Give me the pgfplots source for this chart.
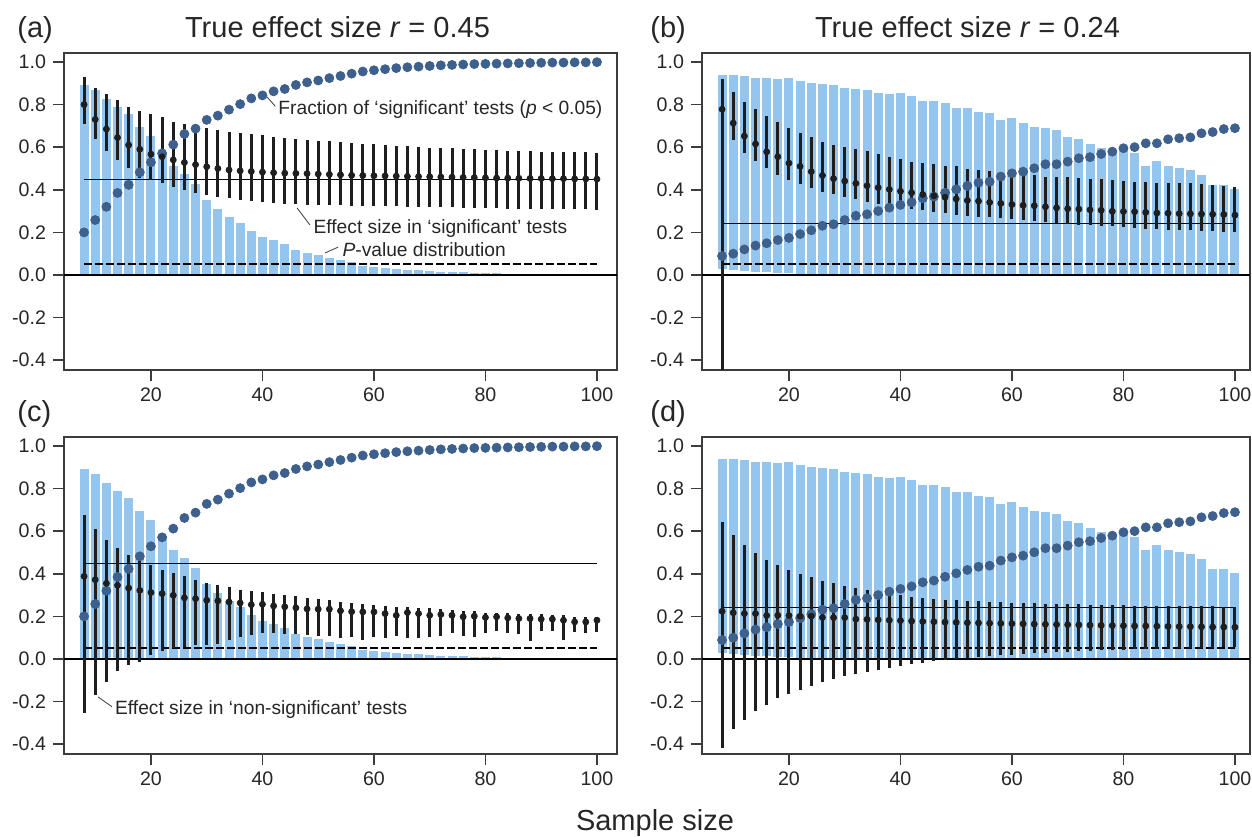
\documentclass[border=0pt]{standalone}
\usepackage{fontspec}
\setmainfont{Liberation Sans}
\usepackage{pgfplots}
\pgfplotsset{compat=1.18}
\usepackage{pgfplotstable}

\definecolor{barc}{RGB}{147,197,238}
\definecolor{dotc}{RGB}{61,96,140}
\definecolor{errc}{RGB}{30,30,30}
\definecolor{axc}{RGB}{60,60,60}

\pgfplotstableread{
n ph pl fr
8 0.891 0 0.200
10 0.868 0 0.258
12 0.824 0 0.320
14 0.790 0 0.385
16 0.754 0 0.423
18 0.693 0 0.482
20 0.653 0 0.529
22 0.575 0 0.571
24 0.513 0 0.612
26 0.476 0 0.662
28 0.428 0 0.687
30 0.353 0 0.728
32 0.310 0 0.748
34 0.270 0 0.776
36 0.245 0 0.802
38 0.205 0 0.829
40 0.180 0 0.843
42 0.163 0 0.862
44 0.145 0 0.873
46 0.117 0 0.892
48 0.105 0 0.904
50 0.094 0 0.913
52 0.080 0 0.924
54 0.070 0 0.934
56 0.062 0 0.945
58 0.044 0 0.955
60 0.037 0 0.961
62 0.033 0 0.966
64 0.029 0 0.971
66 0.025 0 0.975
68 0.022 0 0.978
70 0.019 0 0.981
72 0.016 0 0.984
74 0.014 0 0.986
76 0.012 0 0.988
78 0.010 0 0.990
80 0.008 0 0.991
82 0.007 0 0.992
84 0.006 0 0.993
86 0.005 0 0.994
88 0.004 0 0.995
90 0.004 0 0.996
92 0.003 0 0.997
94 0.003 0 0.997
96 0.002 0 0.998
98 0.002 0 0.998
100 0.002 0 0.999
}\pA

\pgfplotstableread{
n ph pl fr
8 0.939 0.027 0.089
10 0.939 0.022 0.100
12 0.934 0.019 0.120
14 0.925 0.016 0.138
16 0.923 0.014 0.149
18 0.918 0.011 0.164
20 0.923 0.008 0.174
22 0.910 0.006 0.192
24 0.900 0.004 0.210
26 0.897 0.003 0.231
28 0.893 0.002 0.238
30 0.877 0.001 0.258
32 0.873 0 0.278
34 0.870 0 0.285
36 0.855 0 0.300
38 0.849 0 0.316
40 0.852 0 0.329
42 0.842 0 0.341
44 0.817 0 0.360
46 0.817 0 0.368
48 0.806 0 0.386
50 0.786 0 0.402
52 0.786 0 0.418
54 0.766 0 0.433
56 0.760 0 0.438
58 0.728 0 0.462
60 0.736 0 0.477
62 0.713 0 0.485
64 0.693 0 0.501
66 0.692 0 0.520
68 0.680 0 0.520
70 0.647 0 0.532
72 0.637 0 0.548
74 0.615 0 0.553
76 0.598 0 0.568
78 0.587 0 0.579
80 0.592 0 0.595
82 0.571 0 0.600
84 0.510 0 0.618
86 0.535 0 0.618
88 0.510 0 0.637
90 0.500 0 0.642
92 0.493 0 0.646
94 0.470 0 0.665
96 0.423 0 0.671
98 0.423 0 0.685
100 0.404 0 0.689
}\pB

\pgfplotstableread{
n m lo hi
8 0.800 0.710 0.930
10 0.730 0.640 0.880
12 0.685 0.580 0.850
14 0.645 0.540 0.820
16 0.610 0.500 0.790
18 0.590 0.455 0.770
20 0.567 0.445 0.755
22 0.555 0.430 0.740
24 0.540 0.415 0.720
26 0.528 0.400 0.710
28 0.518 0.385 0.695
30 0.508 0.375 0.688
32 0.500 0.368 0.680
34 0.493 0.360 0.672
36 0.489 0.352 0.665
38 0.486 0.346 0.660
40 0.483 0.341 0.655
42 0.480 0.337 0.650
44 0.478 0.333 0.645
46 0.477 0.331 0.640
48 0.476 0.330 0.635
50 0.474 0.329 0.631
52 0.472 0.328 0.627
54 0.470 0.327 0.623
56 0.468 0.326 0.619
58 0.467 0.325 0.616
60 0.466 0.324 0.613
62 0.465 0.323 0.610
64 0.464 0.322 0.607
66 0.463 0.321 0.604
68 0.462 0.320 0.601
70 0.461 0.319 0.598
72 0.460 0.318 0.596
74 0.459 0.317 0.594
76 0.458 0.316 0.592
78 0.457 0.315 0.590
80 0.456 0.314 0.588
82 0.455 0.313 0.586
84 0.455 0.312 0.584
86 0.454 0.311 0.582
88 0.453 0.310 0.580
90 0.453 0.310 0.579
92 0.452 0.309 0.578
94 0.452 0.309 0.577
96 0.451 0.308 0.576
98 0.451 0.308 0.575
100 0.450 0.307 0.574
}\eA

\pgfplotstableread{
n m lo hi
8 0.778 -0.600 0.920
10 0.713 0.634 0.860
12 0.652 0.574 0.810
14 0.615 0.535 0.780
16 0.578 0.500 0.747
18 0.555 0.470 0.718
20 0.525 0.446 0.690
22 0.510 0.427 0.667
24 0.485 0.407 0.650
26 0.467 0.390 0.626
28 0.452 0.378 0.610
30 0.441 0.366 0.600
32 0.430 0.355 0.592
34 0.419 0.344 0.582
36 0.410 0.334 0.568
38 0.402 0.325 0.555
40 0.393 0.317 0.543
42 0.386 0.310 0.532
44 0.378 0.303 0.524
46 0.372 0.297 0.520
48 0.365 0.290 0.513
50 0.357 0.282 0.510
52 0.350 0.279 0.498
54 0.347 0.274 0.493
56 0.341 0.270 0.490
58 0.336 0.266 0.480
60 0.331 0.262 0.477
62 0.327 0.258 0.474
64 0.325 0.254 0.470
66 0.320 0.249 0.460
68 0.315 0.246 0.459
70 0.311 0.241 0.459
72 0.309 0.236 0.454
74 0.306 0.233 0.451
76 0.304 0.230 0.451
78 0.299 0.228 0.446
80 0.298 0.226 0.443
82 0.297 0.222 0.438
84 0.294 0.218 0.438
86 0.291 0.216 0.433
88 0.290 0.213 0.430
90 0.288 0.210 0.430
92 0.287 0.209 0.430
94 0.286 0.207 0.426
96 0.285 0.205 0.423
98 0.284 0.203 0.419
100 0.281 0.200 0.415
}\eB

\pgfplotstableread{
n m lo hi
8 0.388 -0.253 0.678
10 0.372 -0.171 0.610
12 0.355 -0.109 0.559
14 0.346 -0.055 0.520
16 0.333 -0.028 0.489
18 0.322 -0.012 0.463
20 0.312 0.019 0.439
22 0.307 0.037 0.419
24 0.299 0.050 0.403
26 0.287 0.058 0.388
28 0.283 0.065 0.372
30 0.276 0.068 0.358
32 0.273 0.072 0.349
34 0.268 0.089 0.338
36 0.263 0.104 0.322
38 0.255 0.112 0.318
40 0.257 0.120 0.313
42 0.249 0.122 0.307
44 0.245 0.118 0.299
46 0.240 0.115 0.296
48 0.235 0.112 0.285
50 0.234 0.110 0.283
52 0.234 0.108 0.276
54 0.226 0.100 0.268
56 0.222 0.105 0.263
58 0.221 0.089 0.260
60 0.221 0.101 0.255
62 0.213 0.097 0.249
64 0.205 0.107 0.244
66 0.218 0.100 0.244
68 0.213 0.097 0.240
70 0.205 0.104 0.237
72 0.209 0.107 0.234
74 0.205 0.123 0.229
76 0.198 0.107 0.226
78 0.201 0.104 0.226
80 0.195 0.123 0.218
82 0.198 0.131 0.218
84 0.193 0.120 0.216
86 0.190 0.117 0.213
88 0.190 0.084 0.210
90 0.187 0.131 0.209
92 0.187 0.131 0.205
94 0.182 0.089 0.205
96 0.174 0.128 0.198
98 0.174 0.120 0.198
100 0.182 0.128 0.198
}\eC

\pgfplotstableread{
n m lo hi
8 0.224 -0.420 0.645
10 0.217 -0.330 0.584
12 0.213 -0.285 0.536
14 0.213 -0.245 0.497
16 0.204 -0.215 0.463
18 0.205 -0.185 0.442
20 0.204 -0.165 0.420
22 0.201 -0.145 0.400
24 0.201 -0.125 0.385
26 0.195 -0.108 0.366
28 0.194 -0.095 0.357
30 0.194 -0.082 0.343
32 0.187 -0.070 0.333
34 0.186 -0.060 0.322
36 0.184 -0.050 0.311
38 0.182 -0.040 0.307
40 0.180 -0.032 0.299
42 0.178 -0.024 0.291
44 0.176 -0.017 0.288
46 0.175 -0.010 0.283
48 0.173 -0.004 0.278
50 0.172 0.001 0.275
52 0.170 0.006 0.273
54 0.169 0.010 0.270
56 0.168 0.014 0.268
58 0.167 0.018 0.266
60 0.166 0.021 0.264
62 0.165 0.024 0.262
64 0.164 0.027 0.261
66 0.163 0.030 0.259
68 0.162 0.032 0.258
70 0.161 0.034 0.257
72 0.160 0.036 0.256
74 0.159 0.038 0.255
76 0.158 0.040 0.254
78 0.157 0.042 0.253
80 0.156 0.043 0.252
82 0.155 0.045 0.251
84 0.155 0.046 0.250
86 0.154 0.047 0.250
88 0.153 0.048 0.249
90 0.152 0.050 0.248
92 0.152 0.051 0.248
94 0.151 0.052 0.247
96 0.150 0.053 0.247
98 0.150 0.054 0.246
100 0.149 0.055 0.245
}\eD

\pgfplotsset{
  panel/.style={
    scale only axis, height=158.5pt,
    ymin=-0.446, ymax=1.042, xmin=4.4,
    xtick={20,40,60,80,100}, xticklabels={20,40,60,80,100},
    ytick={-0.4,-0.2,0,0.2,0.4,0.6,0.8,1.0},
    yticklabels={-0.4,-0.2,0.0,0.2,0.4,0.6,0.8,1.0},
    tick align=outside, xtick pos=left, ytick pos=left,
    major tick length=5.5pt,
    axis line style={axc, line width=0.8pt},
    tick style={axc, line width=0.8pt},
    ticklabel style={font=\fontsize{9.8}{11}\selectfont, text=black!85},
    clip=true,
  },
  pbars/.style={draw=none, forget plot, error bars/.cd, y dir=plus, y explicit, error mark=none,
    error bar style={draw=barc, line width=4.5pt}},
  pdots/.style={only marks, mark=*, mark size=2.25pt, color=dotc, mark options={draw=dotc, fill=dotc}},
  perr/.style={only marks, mark=*, mark size=1.5pt, color=errc, mark options={draw=errc, fill=errc},
    error bars/.cd, y dir=both, y explicit, error mark=none, error bar style={draw=errc, line width=1.5pt}},
  pdash/.style={black, line width=0.9pt, dash pattern=on 4.2pt off 1.3pt},
  pzero/.style={black, line width=0.6pt},
  ptrue/.style={black, line width=0.6pt},
}
\tikzset{
  leader/.style={draw=black!70, line width=0.45pt},
  anno/.style={font=\fontsize{9.6}{11}\selectfont, text=black!85, inner sep=0pt, anchor=base west},
}

\newcommand{\bigf}{\fontsize{14.5}{17}\selectfont}

\begin{document}
\begin{tikzpicture}
\path[use as bounding box] (0,0) rectangle (626pt,418pt);

% (a)
\begin{axis}[panel, at={(32pt,233pt)}, anchor=south west, width=276.5pt, xmax=103.6]
\addplot[pbars] table[x=n, y=pl, y error plus expr={\thisrow{ph}-\thisrow{pl}}] {\pA};
\addplot[pdash] coordinates {(8,0.05) (100,0.05)};
\addplot[pzero] coordinates {(4.4,0) (103.6,0)};
\addplot[ptrue] coordinates {(8,0.45) (100,0.45)};
\addplot[pdots] table[x=n, y=fr] {\pA};
\addplot[perr] table[x=n, y=m, y error plus expr={\thisrow{hi}-\thisrow{m}}, y error minus expr={\thisrow{m}-\thisrow{lo}}] {\eA};
\draw[leader] (axis cs:40.8,0.836) -- (axis cs:42.3,0.792);
\node[anno] at (axis cs:42.8,0.751) {Fraction of ‘significant’ tests (\textit{p} < 0.05)};
\draw[leader] (axis cs:46.2,0.315) -- (axis cs:48.5,0.235);
\node[anno] at (axis cs:49.1,0.197) {Effect size in ‘significant’ tests};
\draw[leader] (axis cs:51.2,0.103) -- (axis cs:53.6,0.131);
\node[anno] at (axis cs:54.3,0.089) {\textit{P}-value distribution};
\end{axis}

% (b)
\begin{axis}[panel, at={(351pt,233pt)}, anchor=south west, width=274pt, xmax=102.7]
\addplot[pbars] table[x=n, y=pl, y error plus expr={\thisrow{ph}-\thisrow{pl}}] {\pB};
\addplot[pdash] coordinates {(8,0.05) (100,0.05)};
\addplot[pzero] coordinates {(4.4,0) (102.7,0)};
\addplot[ptrue] coordinates {(8,0.24) (100,0.24)};
\addplot[pdots] table[x=n, y=fr] {\pB};
\addplot[perr] table[x=n, y=m, y error plus expr={\thisrow{hi}-\thisrow{m}}, y error minus expr={\thisrow{m}-\thisrow{lo}}] {\eB};
\end{axis}

% (c)
\begin{axis}[panel, at={(32pt,41pt)}, anchor=south west, width=276.5pt, xmax=103.6]
\addplot[pbars] table[x=n, y=pl, y error plus expr={\thisrow{ph}-\thisrow{pl}}] {\pA};
\addplot[pdash] coordinates {(8,0.05) (100,0.05)};
\addplot[pzero] coordinates {(4.4,0) (103.6,0)};
\addplot[ptrue] coordinates {(8,0.45) (100,0.45)};
\addplot[pdots] table[x=n, y=fr] {\pA};
\addplot[perr] table[x=n, y=m, y error plus expr={\thisrow{hi}-\thisrow{m}}, y error minus expr={\thisrow{m}-\thisrow{lo}}] {\eC};
\draw[leader] (axis cs:10.5,-0.178) -- (axis cs:13.0,-0.224);
\node[anno] at (axis cs:13.5,-0.262) {Effect size in ‘non-significant’ tests};
\end{axis}

% (d)
\begin{axis}[panel, at={(351pt,41pt)}, anchor=south west, width=274pt, xmax=102.7]
\addplot[pbars] table[x=n, y=pl, y error plus expr={\thisrow{ph}-\thisrow{pl}}] {\pB};
\addplot[pdash] coordinates {(8,0.05) (100,0.05)};
\addplot[pzero] coordinates {(4.4,0) (102.7,0)};
\addplot[ptrue] coordinates {(8,0.24) (100,0.24)};
\addplot[pdots] table[x=n, y=fr] {\pB};
\addplot[perr] table[x=n, y=m, y error plus expr={\thisrow{hi}-\thisrow{m}}, y error minus expr={\thisrow{m}-\thisrow{lo}}] {\eD};
\end{axis}

% titles and labels
\node[anchor=base, inner sep=0pt, text=black!85] at (168.75pt,399pt) {\bigf True effect size \textit{r} = 0.45};
\node[anchor=base, inner sep=0pt, text=black!85] at (483.75pt,399pt) {\bigf True effect size \textit{r} = 0.24};
\node[anchor=base west, inner sep=0pt, text=black!85] at (8.5pt,399pt) {\bigf (a)};
\node[anchor=base west, inner sep=0pt, text=black!85] at (325pt,399pt) {\bigf (b)};
\node[anchor=base west, inner sep=0pt, text=black!85] at (8.5pt,207pt) {\bigf (c)};
\node[anchor=base west, inner sep=0pt, text=black!85] at (325pt,207pt) {\bigf (d)};
\node[anchor=base, inner sep=0pt, text=black!85] at (327.5pt,3pt) {\bigf Sample size};
\end{tikzpicture}
\end{document}
